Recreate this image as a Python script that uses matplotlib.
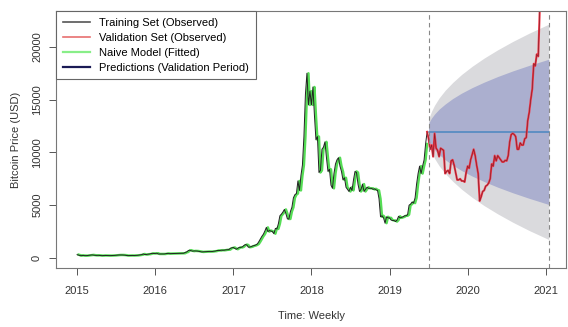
import numpy as np
import matplotlib
matplotlib.use("Agg")
import matplotlib.pyplot as plt
from matplotlib.lines import Line2D

plt.rcParams['font.family'] = ['Liberation Sans', 'DejaVu Sans']

# weekly closing prices (USD), training set: 2015 .. mid 2019
train_2015 = [315, 275, 210, 255, 230, 225, 220, 235, 240, 275, 290, 270, 250, 245,
              255, 235, 225, 225, 240, 235, 240, 235, 225, 230, 245, 245, 260, 270,
              285, 290, 285, 280, 265, 230, 225, 230, 240, 230, 235, 245, 250, 265,
              290, 315, 380, 330, 325, 360, 365, 410, 440, 425]
train_2016 = [430, 450, 380, 385, 380, 375, 380, 410, 435, 410, 415, 410, 415, 420,
              425, 430, 455, 450, 455, 450, 530, 570, 700, 740, 680, 650, 670, 665,
              655, 625, 585, 575, 580, 575, 600, 610, 605, 605, 615, 640, 650, 700,
              715, 710, 740, 730, 740, 770, 780, 790, 920, 960]
train_2017 = [1000, 900, 830, 920, 1010, 1000, 1050, 1180, 1270, 1230, 1020, 1040,
              1080, 1150, 1180, 1240, 1330, 1550, 1800, 2050, 2250, 2550, 2900, 2500,
              2600, 2550, 2500, 2300, 2800, 2750, 3250, 4000, 4150, 4350, 4600, 4200,
              3700, 3700, 4400, 4800, 5700, 6000, 6100, 7300, 6400, 7800, 8800, 11500,
              15500, 17500, 14500, 15800]
train_2018 = [14500, 16200, 13500, 11200, 11500, 8100, 8300, 10300, 10500, 11000,
              9500, 8200, 8400, 6900, 6600, 8000, 8900, 9300, 9500, 8700, 8200, 7400,
              7600, 6700, 6500, 6300, 6700, 6400, 7400, 8200, 8100, 7000, 6300, 6500,
              7000, 6300, 6500, 6700, 6600, 6600, 6600, 6500, 6550, 6450, 6400, 5600,
              3900, 4000, 3800, 3300, 3900, 3800]
train_2019 = [3800, 3600, 3550, 3550, 3450, 3600, 3950, 3800, 3850, 3900, 4000, 4000,
              4100, 5000, 5100, 5300, 5200, 5700, 7000, 8000, 8700, 8000, 8700, 9300,
              10800, 11950]

# validation set: mid 2019 .. Jan 2021
valid = [11300, 10300, 10700, 9600, 11800, 10400, 10200, 9600, 10400, 10300, 10200,
         8000, 8200, 8300, 8000, 9200, 9300, 8800, 8100, 7400, 7400, 7500, 7300, 7300,
         7200, 8100, 8700, 8500, 9300, 9800, 10300, 9700, 8800, 8000, 5400, 5800, 6300,
         6400, 6800, 6900, 7100, 7500, 8900, 8700, 9700, 9200, 9700, 9500, 9300, 9100,
         9100, 9250, 9200, 9700, 11000, 11700, 11800, 11700, 11500, 10300, 10300,
         10900, 10700, 10700, 11300, 11400, 13000, 13800, 15000, 16000, 18400, 18200,
         19300, 19100, 23500, 26500, 29000, 38000, 36000, 32000, 34000]

# naive forecast and prediction intervals (weeks into validation period)
naive_level = 11950
band_week = [0, 1, 2, 4, 7, 11, 16, 22, 29, 37, 46, 56, 67, 80]
hi95 = [13080, 13550, 13910, 14480, 15160, 15880, 16620, 17390, 18160, 18940, 19720,
        20510, 21300, 22150]
lo95 = [10820, 10350, 9990, 9420, 8740, 8020, 7280, 6510, 5740, 4960, 4180, 3390,
        2600, 1750]
hi80 = [12710, 13020, 13270, 13640, 14100, 14580, 15100, 15620, 16140, 16660, 17190,
        17720, 18250, 18830]
lo80 = [11190, 10880, 10630, 10260, 9800, 9320, 8800, 8280, 7760, 7240, 6710, 6180,
        5650, 5070]

train = np.array(train_2015 + train_2016 + train_2017 + train_2018 + train_2019, float)
valid = np.array(valid, float)
t_train = 2015 + np.arange(len(train)) / 52
t_valid = 2015 + (len(train) + np.arange(len(valid))) / 52
t_band = t_valid[0] + np.array(band_week) / 52
fitted = np.r_[np.nan, train[:-1]]

fig = plt.figure(figsize=(5.68, 3.27), dpi=100)
ax = fig.add_axes([0.0986, 0.1804, 0.898, 0.786])

ax.fill_between(t_band, lo95, hi95, color='#dadadd', lw=0)
ax.fill_between(t_band, lo80, hi80, color='#abafcf', lw=0)
ax.plot([t_valid[0], t_valid[-1]], [naive_level, naive_level], color='#4a86c0', lw=1.1)

ax.plot(t_train, fitted, color='#55dd55', lw=1.8)
ax.plot(t_train, train, color='#222222', lw=0.7)
tv = np.r_[t_train[-1], t_valid]
yv = np.r_[train[-1], valid]
ax.plot(tv, yv, color='#f03848', lw=1.5)
ax.plot(tv, yv, color='#601820', lw=0.45, alpha=0.8)

for xv in (t_valid[0], t_valid[-1]):
    ax.axvline(xv, color='#888888', lw=0.8, ls=(0, (4, 3)))

ax.set_xlim(2014.73, 2021.26)
ax.set_ylim(-950, 23400)
ax.set_xticks(range(2015, 2022))
ax.set_yticks([0, 5000, 10000, 15000, 20000])
ax.tick_params(axis='both', labelsize=8, colors='#555555', labelcolor='#333333',
               length=5, width=0.7)
ax.tick_params(axis='x', pad=8)
ax.tick_params(axis='y', pad=5)
for lab in ax.get_yticklabels():
    lab.set_rotation(90)
    lab.set_va('center')
for sp in ax.spines.values():
    sp.set_color('#777777')
    sp.set_linewidth(0.8)

ax.set_xlabel('Time: Weekly', fontsize=8, color='#333333', labelpad=11)
ax.set_ylabel('Bitcoin Price (USD)', fontsize=8, color='#333333', labelpad=8)

handles = [Line2D([], [], color='#555555', lw=1.2),
           Line2D([], [], color='#e87070', lw=1.2),
           Line2D([], [], color='#88ee88', lw=1.6),
           Line2D([], [], color='#1a1a55', lw=1.6)]
labels = ['Training Set (Observed)', 'Validation Set (Observed)',
          'Naive Model (Fitted)', 'Predictions (Validation Period)']
leg = ax.legend(handles, labels, loc='upper left', fontsize=8, frameon=True,
                fancybox=False, borderaxespad=0, handlelength=2.5,
                labelspacing=0.45, edgecolor='#666666', framealpha=1,
                borderpad=0.6)
leg.get_frame().set_linewidth(0.8)

fig.savefig('out.png', dpi=100)
